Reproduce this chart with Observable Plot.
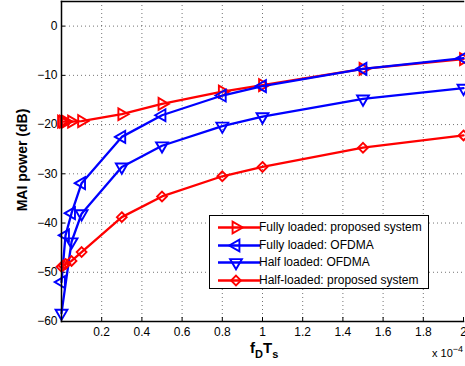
<!DOCTYPE html>
<html>
<head>
<meta charset="utf-8">
<script src="https://cdn.jsdelivr.net/npm/d3@7"></script>
<script src="https://cdn.jsdelivr.net/npm/@observablehq/plot@0.6"></script>
<style>
  body { margin: 0; background: #fff; }
  #wrap { position: relative; width: 465px; height: 366px; overflow: hidden; font-family: "Liberation Sans", Arial, sans-serif; }
  .lbl { position: absolute; color: #000; white-space: nowrap; }
</style>
</head>
<body>
<div id="wrap"></div>
<script>
// ---- data (x in units of 1e-4, y in dB) ----
const seriesNames = [
  "Fully loaded: proposed system",
  "Fully loaded: OFDMA",
  "Half loaded: OFDMA",
  "Half-loaded: proposed system"
];
const xFullProp = [0, 0.01, 0.02, 0.05, 0.1, 0.3, 0.5, 0.8, 1, 1.5, 2];
const yFullProp = [-19.4, -19.4, -19.4, -19.4, -19.3, -17.9, -15.8, -13.3, -12.0, -8.7, -6.7];
const xFullOfdma = [0, 0.02, 0.05, 0.1, 0.3, 0.5, 0.8, 1, 1.5, 2];
const yFullOfdma = [-52, -42.5, -38, -31.9, -22.5, -18.1, -14.1, -12.2, -8.7, -6.5];
const xHalfOfdma = [0, 0.05, 0.1, 0.3, 0.5, 0.8, 1, 1.5, 2];
const yHalfOfdma = [-58.3, -43.8, -38.1, -28.6, -24.3, -20.3, -18.4, -14.8, -12.6];
const xHalfProp = [0, 0.01, 0.02, 0.05, 0.1, 0.3, 0.5, 0.8, 1, 1.5, 2];
const yHalfProp = [-48.9, -48.6, -48.3, -47.7, -45.9, -38.8, -34.6, -30.5, -28.6, -24.7, -22.2];
const xTicks = [0.2, 0.4, 0.6, 0.8, 1, 1.2, 1.4, 1.6, 1.8, 2];
const yTicks = [-60, -50, -40, -30, -20, -10, 0];

const colors = ["#ff0000", "#0000ff", "#0000ff", "#ff0000"];
const symbols = ["triangle", "triangle", "triangle", "diamond2"];
const rotations = [90, -90, 180, 0];
const xs = [xFullProp, xFullOfdma, xHalfOfdma, xHalfProp];
const ys = [yFullProp, yFullOfdma, yHalfOfdma, yHalfProp];

const series = xs.map((xArr, i) => xArr.map((x, j) => ({x, y: ys[i][j], s: i})));

const marks = [
  Plot.gridX(xTicks.filter(d => d < 2), {stroke: "#000", strokeOpacity: 0.55, strokeDasharray: "1,3"}),
  Plot.gridY(yTicks.filter(d => d > -60), {stroke: "#000", strokeOpacity: 0.55, strokeDasharray: "1,3"}),
  Plot.axisX(xTicks, {tickSize: 0, tickPadding: 6, fontSize: 12, tickFormat: d => String(d), label: null}),
  Plot.axisY(yTicks, {tickSize: 0, tickPadding: 4, fontSize: 12, label: null}),
  Plot.axisX(xTicks, {tickSize: -4, text: null, label: null}),
  Plot.axisY(yTicks, {tickSize: -4, text: null, label: null})
];
series.forEach((data, i) => {
  marks.push(Plot.line(data, {x: "x", y: "y", stroke: colors[i], strokeWidth: 2.3}));
  marks.push(Plot.dot(data, {x: "x", y: "y", stroke: colors[i], strokeWidth: 1.9, fill: "none", symbol: symbols[i], rotate: rotations[i], r: 4.4}));
});
marks.push(Plot.frame({anchor: "left", stroke: "#000", strokeWidth: 1.5}));
marks.push(Plot.frame({anchor: "top", stroke: "#000", strokeWidth: 1.5}));
marks.push(Plot.frame({anchor: "bottom", stroke: "#000", strokeWidth: 1.5}));

const chart = Plot.plot({
  width: 465,
  height: 366,
  marginLeft: 61,
  marginRight: 2,
  marginTop: 1,
  marginBottom: 45,
  x: {domain: [0, 2], label: null},
  y: {domain: [-60, 5], label: null},
  style: {fontFamily: "'Liberation Sans', Arial, sans-serif", fontSize: "12px", color: "#000", background: "#fff", overflow: "visible"},
  marks
});
const wrap = document.getElementById("wrap");
wrap.appendChild(chart);

// ---- axis labels ----
const yl = document.createElement("div");
yl.className = "lbl";
yl.style.cssText = "left:22px;top:160px;font-weight:bold;font-size:14px;transform:translate(-50%,-50%) rotate(-90deg);";
yl.textContent = "MAI power (dB)";
wrap.appendChild(yl);

const xl = document.createElement("div");
xl.className = "lbl";
xl.style.cssText = "left:250px;top:339px;font-weight:bold;font-size:15px;";
xl.innerHTML = 'f<sub style="font-size:11px;vertical-align:-5px">D</sub>T<sub style="font-size:11px;vertical-align:-5px">s</sub>';
wrap.appendChild(xl);

const ex = document.createElement("div");
ex.className = "lbl";
ex.style.cssText = "left:432px;top:344px;font-size:11px;";
ex.innerHTML = 'x 10<sup style="font-size:9px;vertical-align:5px">−4</sup>';
wrap.appendChild(ex);

// ---- legend ----
const lg = document.createElement("div");
lg.style.cssText = "position:absolute;left:209px;top:215px;width:218px;height:72px;border:1px solid #000;background:#fff;box-sizing:content-box;";
seriesNames.forEach((name, i) => {
  const row = document.createElement("div");
  row.style.cssText = `position:absolute;left:0;top:${3 + i * 17.6}px;height:17px;width:218px;`;
  const svg = d3.create("svg").attr("width", 48).attr("height", 17).style("position", "absolute").style("left", "6px").style("top", "0px");
  svg.append("line").attr("x1", 2).attr("x2", 44).attr("y1", 8.5).attr("y2", 8.5).attr("stroke", colors[i]).attr("stroke-width", 2.3);
  const sym = symbols[i] === "diamond2" ? d3.symbolDiamond2 : d3.symbolTriangle;
  svg.append("path").attr("d", d3.symbol(sym, 4.4 * 4.4 * Math.PI)()).attr("transform", `translate(20,8.5) rotate(${rotations[i]})`)
    .attr("stroke", colors[i]).attr("stroke-width", 1.9).attr("fill", "none");
  row.appendChild(svg.node());
  const t = document.createElement("span");
  t.style.cssText = "position:absolute;left:49px;top:1px;font-size:12px;color:#000;white-space:nowrap;";
  t.textContent = name;
  row.appendChild(t);
  lg.appendChild(row);
});
wrap.appendChild(lg);
</script>
</body>
</html>
